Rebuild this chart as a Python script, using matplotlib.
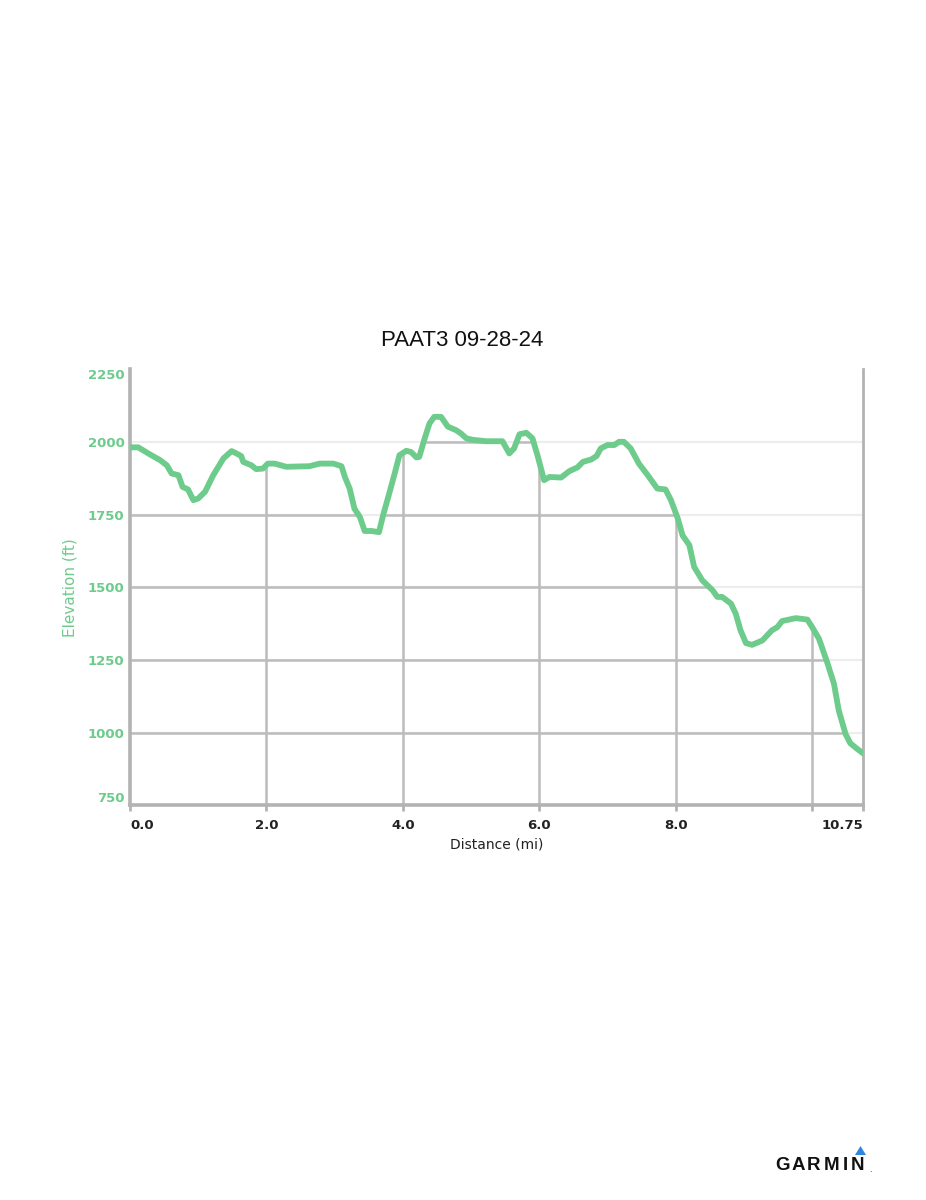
"""
plot.py - perfil de elevación de la ruta (estilo Garmin Connect).
"""
import numpy as np
import matplotlib
matplotlib.use("Agg")
import matplotlib.pyplot as plt
from matplotlib.patches import Polygon

GREEN = "#6dcb8c"
GRID_DARK = "#bcbcbc"
GRID_LIGHT = "#ededed"

TITLE = "PAAT3 09-28-24"

# distancia (mi) y elevación (ft)
dist = [0.00, 0.12, 0.29, 0.44, 0.54, 0.61, 0.71, 0.77, 0.85, 0.93,
        1.00, 1.10, 1.22, 1.37, 1.49, 1.56, 1.63, 1.66, 1.78, 1.85,
        1.95, 2.02, 2.12, 2.29, 2.63, 2.78, 2.98, 3.10, 3.15, 3.22,
        3.29, 3.37, 3.44, 3.54, 3.65, 3.71, 3.80, 3.88, 3.95, 4.05,
        4.12, 4.20, 4.24, 4.32, 4.39, 4.46, 4.56, 4.66, 4.78, 4.85,
        4.93, 5.02, 5.22, 5.46, 5.56, 5.63, 5.71, 5.81, 5.90, 5.98,
        6.07, 6.15, 6.32, 6.44, 6.56, 6.64, 6.76, 6.84, 6.90, 7.00,
        7.10, 7.17, 7.24, 7.34, 7.46, 7.59, 7.73, 7.85, 7.93, 8.03,
        8.10, 8.20, 8.27, 8.39, 8.54, 8.61, 8.68, 8.81, 8.88, 8.95,
        9.03, 9.12, 9.27, 9.41, 9.49, 9.56, 9.76, 9.93, 10.00, 10.10,
        10.22, 10.32, 10.39, 10.49, 10.56, 10.66, 10.75]
elev = [1982, 1982, 1958, 1938, 1920, 1892, 1886, 1846, 1837, 1800,
        1806, 1829, 1886, 1944, 1969, 1961, 1952, 1932, 1920, 1907,
        1909, 1926, 1926, 1915, 1917, 1926, 1926, 1917, 1880, 1840,
        1771, 1742, 1694, 1694, 1690, 1748, 1823, 1892, 1955, 1970,
        1966, 1947, 1949, 2013, 2064, 2087, 2087, 2053, 2041, 2030,
        2013, 2008, 2003, 2003, 1961, 1978, 2027, 2032, 2013, 1949,
        1869, 1880, 1878, 1900, 1913, 1932, 1940, 1952, 1978, 1990,
        1990, 2001, 2001, 1978, 1926, 1886, 1840, 1837, 1800, 1737,
        1679, 1645, 1570, 1524, 1490, 1467, 1467, 1444, 1409, 1352,
        1308, 1302, 1317, 1352, 1363, 1384, 1394, 1389, 1363, 1323,
        1242, 1168, 1076, 995, 963, 944, 928]

x_ticks = [0, 2, 4, 6, 8, 10, 10.75]
x_labels = ["0.0", "2.0", "4.0", "6.0", "8.0", "", "10.75"]
x_grid = [2, 4, 6, 8, 10]
y_ticks = [750, 1000, 1250, 1500, 1750, 2000, 2250]
y_grid = [1000, 1250, 1500, 1750, 2000]

X_MAX, Y_MIN, Y_MAX = 10.75, 750, 2250

fig = plt.figure(figsize=(9.26, 12), dpi=100)
ax = fig.add_axes([0.1404, 0.329, 0.7919, 0.3631])
ax.set_xlim(0, X_MAX)
ax.set_ylim(Y_MIN, Y_MAX)

# zona bajo la curva: ahí la rejilla se ve oscura
under = Polygon(np.column_stack([[0] + dist + [X_MAX], [Y_MIN] + elev + [Y_MIN]]),
                closed=True, facecolor="none", edgecolor="none",
                transform=ax.transData)
ax.add_patch(under)

for yv in y_grid:
    ax.axhline(yv, color=GRID_LIGHT, lw=1.6, zorder=1)
    ln = ax.axhline(yv, color=GRID_DARK, lw=1.8, zorder=2)
    ln.set_clip_path(under)
for xv in x_grid:
    ln = ax.axvline(xv, color=GRID_DARK, lw=1.8, zorder=2)
    ln.set_clip_path(under)

ax.plot(dist, elev, color=GREEN, lw=4.2, solid_capstyle="round",
        solid_joinstyle="round", zorder=4)

ax.spines["top"].set_visible(False)
for s, w in [("left", 2.6), ("bottom", 2.6), ("right", 2.0)]:
    ax.spines[s].set_color("#b3b3b3")
    ax.spines[s].set_linewidth(w)

ax.set_xticks(x_ticks)
ax.set_xticklabels(x_labels)
ax.set_yticks(y_ticks)
ax.set_yticklabels([str(v) for v in y_ticks])
ax.tick_params(axis="x", length=4, width=2, color="#b3b3b3", pad=6,
               labelsize=9.5, labelcolor="#222222")
ax.tick_params(axis="y", length=0, pad=4, labelsize=9.5, labelcolor=GREEN)
for lab in ax.get_xticklabels() + ax.get_yticklabels():
    lab.set_fontweight("bold")
xl = ax.get_xticklabels()
xl[0].set_ha("left")
xl[-1].set_ha("right")
yl = ax.get_yticklabels()
yl[0].set_va("bottom")
yl[-1].set_va("top")

ax.set_xlabel("Distance (mi)", fontsize=10, color="#222222", labelpad=4)
ax.set_ylabel("Elevation (ft)", fontsize=11, color=GREEN, labelpad=7)

fig.text(0.499, 0.716, TITLE, ha="center", va="center",
         family="Liberation Sans", fontsize=16, color="#111111")

# logo (letras separadas para imitar el ancho del logotipo)
logo_x = [782, 798.5, 814, 832, 845.5, 858]
for ch, px in zip("GARMIN", logo_x):
    fig.text(px / 926, 1 - 1165 / 1200, ch, ha="center", va="center",
             family="Liberation Sans", fontweight="bold", fontsize=13.5,
             color="#111111")
fig.text(870 / 926, 1 - 1170 / 1200, ".", ha="center", va="center",
         fontsize=6, color="#111111")
fig.patches.append(Polygon([[855 / 926, 1 - 1155 / 1200],
                            [866 / 926, 1 - 1155 / 1200],
                            [860.5 / 926, 1 - 1146 / 1200]],
                           closed=True, transform=fig.transFigure,
                           facecolor="#2f86de", edgecolor="none"))

fig.savefig("out.png", dpi=100)
